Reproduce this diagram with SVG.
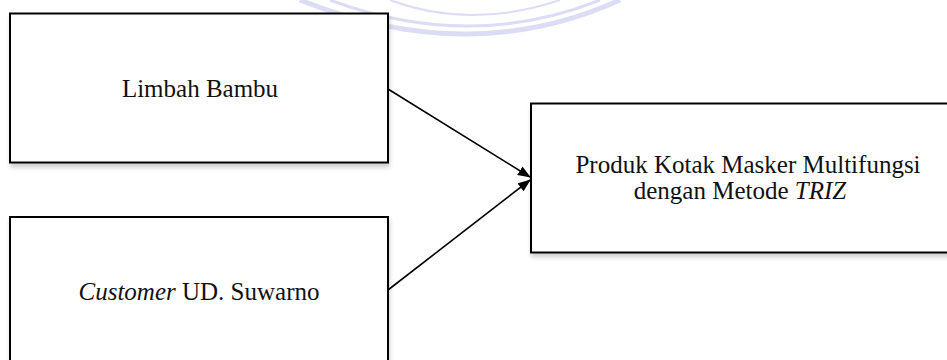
<svg xmlns="http://www.w3.org/2000/svg" width="947" height="360" viewBox="0 0 947 360">
  <defs>
    <filter id="shadow" x="-5%" y="-5%" width="115%" height="120%">
      <feDropShadow dx="1" dy="4" stdDeviation="2" flood-color="#000" flood-opacity="0.18"/>
    </filter>
    <marker id="arrow" markerUnits="userSpaceOnUse" markerWidth="13" markerHeight="10" refX="12" refY="5" orient="auto">
      <path d="M0,0 L13,5 L0,10 z" fill="#000"/>
    </marker>
  </defs>
  <style>
    .box { fill: #fff; stroke: #000; stroke-width: 2; filter: url(#shadow); }
    .lbl { font-family: "Liberation Serif", "Times New Roman", serif; font-size: 25px; fill: #111; text-anchor: middle; }
    .conn { stroke: #000; stroke-width: 1.6; fill: none; marker-end: url(#arrow); }
    .wm { fill: none; stroke: #d6d6f3; }
  </style>
  <g id="watermark" opacity="0.85">
    <path class="wm" stroke-width="5" d="M300,0 Q470,68 620,0"/>
    <path class="wm" stroke-width="3" d="M330,0 Q470,52 600,0"/>
    <path class="wm" stroke-width="2" d="M390,0 Q470,30 560,0"/>
  </g>
  <g id="connectors">
    <line class="conn" x1="388" y1="89" x2="530" y2="177"/>
    <line class="conn" x1="388" y1="290" x2="530" y2="180"/>
  </g>
  <g id="limbah-bambu">
    <rect class="box" x="10" y="13.5" width="378" height="149"/>
    <text class="lbl" x="200" y="97">Limbah Bambu</text>
  </g>
  <g id="customer">
    <rect class="box" x="10" y="217" width="378" height="160"/>
    <text class="lbl" x="199" y="300"><tspan font-style="italic">Customer</tspan> UD. Suwarno</text>
  </g>
  <g id="produk">
    <rect class="box" x="531" y="103.5" width="430" height="149"/>
    <text class="lbl" x="748" y="173">Produk Kotak Masker Multifungsi</text>
    <text class="lbl" x="740" y="199">dengan Metode <tspan font-style="italic">TRIZ</tspan></text>
  </g>
</svg>
